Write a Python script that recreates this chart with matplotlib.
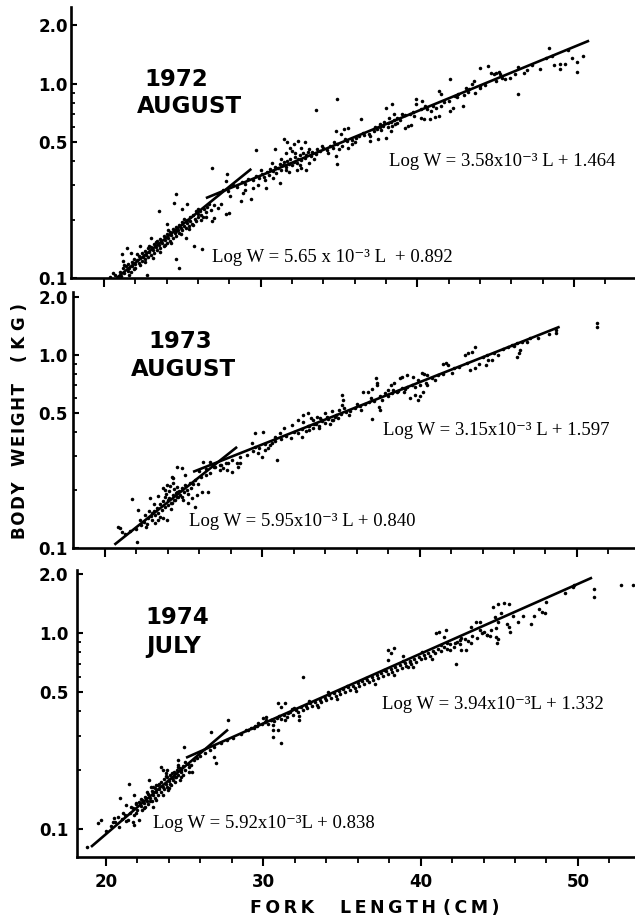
import matplotlib
matplotlib.use("Agg")
import matplotlib.pyplot as plt
from matplotlib.ticker import FixedLocator, FixedFormatter, NullFormatter

# ---------------- data (fork length cm, body weight kg) ----------------
years = ["1972", "1973", "1974"]
months = ["AUGUST", "AUGUST", "JULY"]

eq_lower = ["Log W = 5.65 x 10\u207b\u00b3 L  + 0.892",
            "Log W = 5.95x10\u207b\u00b3 L + 0.840",
            "Log W = 5.92x10\u207b\u00b3L + 0.838"]
eq_upper = ["Log W = 3.58x10\u207b\u00b3 L + 1.464",
            "Log W = 3.15x10\u207b\u00b3 L + 1.597",
            "Log W = 3.94x10\u207b\u00b3L + 1.332"]

# regression lines: (x0, x1), (y0, y1)
line_lower_x = [(20.8, 29.4), (20.6, 28.4), (19.05, 27.76)]
line_lower_y = [(0.100, 0.365), (0.104, 0.334), (0.0815, 0.323)]
line_upper_x = [(26.5, 50.96), (25.6, 48.9), (25.09, 50.9)]
line_upper_y = [(0.258, 1.67), (0.248, 1.40), (0.232, 1.92)]

pts_1972 = [
    (20.4,0.101),(20.7,0.104),(20.9,0.100),(21.0,0.108),(21.1,0.103),(21.2,0.112),(21.3,0.106),(21.4,0.115),
    (21.5,0.109),(21.5,0.118),(21.6,0.113),(21.7,0.107),(21.8,0.121),(21.8,0.115),(21.9,0.126),(22.0,0.118),
    (22.0,0.112),(22.1,0.124),(22.2,0.130),(22.2,0.119),(22.3,0.127),(22.4,0.122),(22.4,0.135),(22.5,0.129),
    (22.6,0.125),(22.6,0.138),(22.7,0.132),(22.8,0.128),(22.8,0.142),(22.9,0.136),(23.0,0.131),(23.0,0.145),
    (23.1,0.140),(23.2,0.134),(23.2,0.150),(23.3,0.144),(23.4,0.139),(23.4,0.155),(23.5,0.148),(23.6,0.143),
    (23.6,0.158),(23.7,0.152),(23.8,0.147),(23.8,0.164),(23.9,0.157),(24.0,0.151),(24.0,0.168),(24.1,0.161),
    (24.2,0.156),(24.2,0.173),(24.3,0.166),(24.4,0.160),(24.4,0.178),(24.5,0.171),(24.6,0.165),(24.6,0.183),
    (24.7,0.176),(24.8,0.170),(24.8,0.188),(24.9,0.181),(25.0,0.176),(25.0,0.194),(25.1,0.186),(25.2,0.180),
    (25.3,0.199),(25.3,0.191),(25.4,0.185),(25.5,0.205),(25.5,0.196),(25.6,0.190),(25.7,0.210),(25.8,0.201),
    (25.9,0.196),(26.0,0.214),(26.0,0.207),(26.1,0.221),(26.2,0.212),(26.3,0.205),(26.4,0.226),(26.5,0.218),
    (26.6,0.231),(26.8,0.224),(27.0,0.238),
    (20.6,0.106),(21.0,0.099),(21.3,0.117),(21.6,0.104),(21.9,0.111),(22.1,0.133),(22.3,0.116),(22.6,0.121),
    (22.9,0.147),(23.1,0.127),(23.3,0.153),(23.6,0.136),(23.9,0.148),(24.1,0.177),(24.3,0.152),(24.6,0.175),
    (24.9,0.169),(25.1,0.201),(25.4,0.178),(25.7,0.188),(25.9,0.222),(26.2,0.198),(26.5,0.205),(26.7,0.240),
    (25.2,0.160),(23.0,0.160),(22.3,0.146),(24.0,0.190),(21.2,0.122),(26.0,0.228),
    (21.46,0.143),(21.72,0.135),(21.14,0.133),(22.73,0.104),(24.58,0.125),(24.77,0.113),(25.72,0.146),
    (26.23,0.141),(23.50,0.221),(24.58,0.271),(24.45,0.244),(25.28,0.241),(24.96,0.227),(26.87,0.197),
    (27.0,0.204),(26.87,0.369),(27.82,0.344),(27.76,0.316),(28.71,0.249),(29.35,0.255),(28.07,0.265),
    (27.44,0.241),(27.95,0.216),(30.36,0.291),(31.25,0.309),(30.81,0.327),(29.73,0.457),(30.93,0.463),
    (27.3,0.229),(27.76,0.214),(29.0,0.285),(29.5,0.290),(29.8,0.300),(28.9,0.275),
    (27.3,0.272),(27.6,0.285),(27.9,0.281),(28.2,0.300),(28.5,0.295),(28.8,0.312),(29.0,0.305),(29.2,0.322),
    (29.5,0.318),(29.7,0.335),(29.9,0.328),(30.1,0.345),(30.2,0.330),(30.4,0.352),(30.5,0.340),(30.6,0.365),
    (30.8,0.355),(30.9,0.375),(31.0,0.348),(31.1,0.368),(31.2,0.385),(31.3,0.360),(31.4,0.380),(31.5,0.395),
    (31.6,0.372),(31.7,0.400),(31.8,0.385),(31.9,0.410),(32.0,0.380),(32.1,0.398),(32.2,0.420),(32.3,0.392),
    (32.4,0.410),(32.5,0.428),(32.6,0.405),(32.7,0.438),(32.8,0.415),(32.9,0.430),(33.0,0.448),(33.2,0.425),
    (33.3,0.445),(33.5,0.435),(33.6,0.460),(33.8,0.450),(34.0,0.470),(34.2,0.455),(34.4,0.478),(34.6,0.468),
    (34.9,0.490),(35.2,0.478),(35.5,0.505),(35.8,0.515),(36.1,0.525),(36.3,0.540),(36.6,0.545),(36.9,0.555),
    (37.2,0.570),(37.4,0.588),(37.6,0.598),(37.8,0.610),(38.1,0.628),(38.3,0.640),(38.5,0.655),(38.7,0.668),
    (38.9,0.650),(39.2,0.690),(39.5,0.700),(40.6,0.745),(41.0,0.770),(41.7,0.810),(42.5,0.860),(43.2,0.905),
    (44.3,0.990),(45.4,1.075),(46.2,1.125),(47.3,1.25),(48.6,1.40),(49.6,1.50),
    (30.0,0.36),(30.3,0.32),(30.7,0.39),(31.0,0.37),(31.3,0.41),(31.6,0.36),(32.2,0.44),(32.5,0.38),
    (33.1,0.46),(33.4,0.41),(33.9,0.48),(34.3,0.44),(34.7,0.50),(35.0,0.46),(35.4,0.52),(36.0,0.50),
    (36.5,0.56),(37.0,0.54),(37.3,0.60),(39.0,0.70),(39.7,0.72),(40.2,0.74),(41.5,0.77),(42.0,0.82),
    (43.0,0.88),(44.0,0.95),
    (31.5,0.52),(31.7,0.50),(31.9,0.47),(32.1,0.49),(32.4,0.51),(32.6,0.47),(32.8,0.50),(31.6,0.44),
    (32.0,0.45),(32.3,0.36),(31.8,0.35),(32.6,0.37),(32.9,0.36),(33.1,0.39),
    (37.9,0.64),(38.1,0.60),(38.2,0.67),(38.4,0.61),(38.5,0.70),(38.7,0.63),(37.7,0.58),(37.6,0.62),
    (33.54,0.735),(34.88,0.836),(36.4,0.661),(34.8,0.572),(35.3,0.585),(35.6,0.593),(35.1,0.553),(34.8,0.425),
    (34.9,0.387),(35.6,0.467),(35.8,0.49),(37.0,0.508),(37.5,0.52),(38.0,0.526),(38.3,0.572),(38.6,0.622),
    (38.0,0.75),(38.4,0.786),(39.2,0.593),(39.4,0.606),(39.6,0.614),(39.9,0.836),(40.3,0.817),(39.9,0.786),
    (40.5,0.77),(39.8,0.683),(40.2,0.668),(40.4,0.661),(40.8,0.661),(41.1,0.675),(41.4,0.683),(40.9,0.725),
    (41.2,0.75),(41.4,0.92),(41.5,0.89),(42.1,1.06),(42.1,0.725),(42.3,0.75),(42.4,0.87),(42.6,0.89),
    (42.9,0.77),(43.1,0.954),(43.3,0.94),(43.5,1.0),(43.6,1.03),(43.7,0.90),(44.0,0.98),(44.0,1.21),
    (44.5,1.24),(44.7,1.14),(45.0,1.14),(45.2,1.15),(45.3,1.13),(44.9,1.13),(45.0,1.03),(45.6,1.06),
    (45.9,1.075),(46.4,1.22),(46.8,1.14),(47.0,1.18),(46.4,0.89),(47.8,1.19),(48.2,1.36),(48.4,1.53),
    (48.7,1.25),(49.1,1.26),(49.1,1.19),(49.4,1.27),(49.9,1.36),(50.2,1.30),(50.2,1.15),(50.6,1.39),
]

pts_1973 = [
    (20.83,0.128),(21.3,0.118),(21.6,0.122),(22.0,0.125),(22.3,0.131),(22.5,0.137),(22.7,0.133),(22.9,0.146),
    (23.0,0.140),(23.1,0.155),(23.2,0.148),(23.3,0.162),(23.4,0.152),(23.5,0.170),(23.6,0.158),(23.7,0.176),
    (23.8,0.163),(23.9,0.190),(24.0,0.167),(24.1,0.182),(24.1,0.198),(24.2,0.172),(24.3,0.188),(24.4,0.178),
    (24.4,0.203),(24.5,0.192),(24.6,0.183),(24.7,0.198),(24.8,0.188),(24.9,0.205),(25.0,0.195),(25.1,0.212),
    (25.2,0.200),(25.4,0.218),(25.5,0.205),(25.7,0.224),(25.9,0.215),(26.1,0.232),(26.4,0.240),(26.7,0.245),
    (27.0,0.262),(27.4,0.268),(27.8,0.276),
    (22.2,0.140),(22.6,0.128),(23.2,0.135),(23.5,0.145),(23.8,0.200),(24.2,0.160),(24.6,0.195),(24.9,0.183),
    (25.3,0.190),(23.1,0.170),(23.4,0.185),(24.3,0.230),(25.6,0.215),(22.8,0.155),
    (20.95,0.127),(21.08,0.121),(22.03,0.107),(21.72,0.179),(22.1,0.157),(22.54,0.148),(22.73,0.143),
    (22.99,0.152),(22.86,0.181),(23.69,0.204),(23.94,0.212),(24.13,0.209),(24.32,0.217),(24.58,0.207),
    (23.8,0.184),(24.0,0.177),(24.26,0.171),(24.45,0.177),(24.64,0.184),(23.37,0.140),(23.69,0.143),
    (23.94,0.140),(24.58,0.263),(24.9,0.259),(24.26,0.233),(25.09,0.239),(24.96,0.177),(25.28,0.171),
    (25.53,0.181),(25.85,0.188),(25.72,0.163),(26.17,0.195),(26.55,0.195),(26.23,0.279),(26.68,0.279),
    (27.5,0.259),(27.76,0.253),(28.07,0.247),(28.39,0.276),(28.46,0.263),(27.3,0.253),(28.58,0.276),
    (29.35,0.35),(29.54,0.334),(29.73,0.31),(29.98,0.296),(30.17,0.322),(30.36,0.330),(30.62,0.35),
    (29.54,0.394),(30.04,0.398),(30.93,0.286),(30.8,0.376),(31.1,0.394),(31.4,0.419),(31.9,0.433),
    (32.3,0.46),(32.6,0.488),(32.9,0.50),(32.5,0.376),
    (26.0,0.252),(26.4,0.258),(26.9,0.262),(27.3,0.270),(27.7,0.276),(28.1,0.285),(28.6,0.295),(29.0,0.305),
    (29.4,0.318),(29.8,0.330),(30.2,0.345),(30.5,0.340),(30.8,0.360),(31.2,0.368),(31.5,0.380),(31.8,0.372),
    (32.0,0.400),(32.3,0.392),(32.5,0.415),(32.8,0.405),(33.0,0.428),(33.2,0.418),(33.4,0.440),(33.6,0.430),
    (33.8,0.455),(34.0,0.445),(34.2,0.468),(34.4,0.458),(34.6,0.480),(34.8,0.470),(35.0,0.495),(35.3,0.505),
    (35.6,0.515),(35.9,0.530),(36.2,0.545),(36.5,0.555),(36.8,0.568),(37.1,0.580),(38.0,0.615),(38.6,0.650),
    (39.1,0.668),(40.8,0.760),(41.2,0.785),(42.5,0.870),(43.0,0.905),(44.0,0.980),(44.7,1.02),(45.3,1.07),
    (46.0,1.11),(47.5,1.23),(48.2,1.29),
    (33.2,0.46),(33.7,0.47),(34.1,0.48),(34.5,0.46),(35.2,0.53),(35.5,0.49),(36.0,0.56),(36.3,0.52),
    (36.9,0.60),(38.3,0.66),(39.0,0.64),(40.0,0.70),(41.0,0.74),(41.5,0.80),(42.2,0.86),(44.3,1.0),(45.0,1.0),
    (32.6,0.45),(32.9,0.43),(33.1,0.47),(33.3,0.44),(33.5,0.48),(33.8,0.46),(34.0,0.50),(34.2,0.47),
    (34.4,0.51),(34.7,0.49),(34.9,0.52),(33.0,0.41),(33.6,0.42),(34.3,0.44),
    (35.07,0.62),(35.13,0.584),(35.07,0.55),(36.97,0.466),(36.4,0.64),(36.7,0.64),(37.0,0.67),(37.2,0.76),
    (37.3,0.72),(37.3,0.70),(37.5,0.61),(37.6,0.584),(37.4,0.535),(37.5,0.52),(37.8,0.635),(38.0,0.66),
    (38.2,0.70),(38.4,0.72),(38.75,0.76),(38.9,0.77),(38.25,0.635),(38.56,0.64),(38.88,0.674),(39.2,0.68),
    (39.5,0.70),(39.7,0.68),(39.2,0.79),(39.6,0.77),(39.9,0.74),(40.15,0.81),(40.3,0.80),(40.5,0.79),
    (39.4,0.60),(39.7,0.62),(40.0,0.61),(40.2,0.64),(39.9,0.584),(40.4,0.72),(40.5,0.70),(41.5,0.90),
    (41.7,0.91),(41.8,0.89),(42.06,0.81),(42.9,1.0),(43.1,1.02),(43.3,1.04),(43.5,1.10),(43.2,0.84),
    (43.5,0.86),(43.8,0.90),(44.2,0.89),(44.35,0.94),(44.6,0.94),(45.6,1.10),(45.9,1.12),(46.2,1.15),
    (46.5,1.17),(46.3,1.03),(46.2,0.98),(46.4,1.06),(46.8,1.17),(47.0,1.22),(48.7,1.34),(48.7,1.30),
    (51.3,1.46),(51.3,1.40),
]

pts_1974 = [
    (20.0,0.098),(20.3,0.104),(20.6,0.109),(20.8,0.103),(21.0,0.113),(21.2,0.118),(21.3,0.110),
    (21.5,0.122),(21.7,0.128),(21.8,0.118),(21.9,0.135),(22.0,0.126),(22.1,0.138),(22.2,0.131),(22.3,0.142),
    (22.3,0.125),(22.4,0.136),(22.5,0.147),(22.5,0.130),(22.6,0.140),(22.7,0.152),(22.7,0.135),(22.8,0.145),
    (22.9,0.157),(22.9,0.140),(23.0,0.150),(23.1,0.162),(23.1,0.145),(23.2,0.155),(23.3,0.168),(23.3,0.150),
    (23.4,0.160),(23.5,0.174),(23.5,0.155),(23.6,0.165),(23.7,0.180),(23.7,0.160),(23.8,0.170),(23.9,0.185),
    (23.9,0.165),(24.0,0.176),(24.1,0.190),(24.1,0.170),(24.2,0.182),(24.3,0.196),(24.4,0.186),(24.5,0.200),
    (24.6,0.190),(24.7,0.205),(24.8,0.196),(24.9,0.210),(25.0,0.200),(25.2,0.215),(25.4,0.212),(25.6,0.225),
    (25.8,0.230),(26.0,0.238),(26.3,0.245),(26.6,0.255),(26.9,0.262),(27.3,0.275),(27.7,0.285),(28.1,0.292),
    (28.6,0.305),(29.0,0.320),(29.4,0.330),
    (21.9,0.122),(22.2,0.143),(22.4,0.128),(22.6,0.155),(22.8,0.139),(23.0,0.165),(23.2,0.141),(23.4,0.171),
    (23.6,0.150),(23.8,0.188),(24.0,0.162),(24.2,0.195),(24.4,0.175),(24.6,0.213),(24.8,0.185),(25.0,0.222),
    (25.3,0.196),(23.0,0.130),(23.9,0.200),(24.7,0.178),
    (18.8,0.0815),(19.5,0.108),(19.7,0.112),(20.45,0.109),(20.5,0.115),(20.76,0.116),(20.9,0.145),
    (21.1,0.121),(21.4,0.112),(21.7,0.109),(21.8,0.105),(22.1,0.112),(21.46,0.171),(21.8,0.150),(21.9,0.137),
    (21.3,0.133),(21.6,0.130),(22.73,0.179),(22.86,0.165),(23.18,0.169),(23.5,0.208),(23.6,0.202),(23.8,0.194),
    (24.6,0.226),(24.6,0.208),(24.8,0.200),(24.9,0.190),(25.3,0.208),(25.5,0.197),(24.26,0.179),(24.45,0.185),
    (24.13,0.169),(23.94,0.159),(24.96,0.263),(26.87,0.235),(27.0,0.219),(26.7,0.315),(27.76,0.362),
    (29.66,0.349),(29.98,0.370),(30.17,0.375),(30.49,0.362),(30.6,0.323),(30.6,0.297),(30.93,0.323),
    (31.1,0.276),(30.93,0.442),(31.1,0.422),(31.4,0.442),(31.6,0.393),(31.95,0.416),(32.3,0.362),(32.5,0.598),
    (28.9,0.323),(29.2,0.329),(29.5,0.337),
    (29.6,0.335),(29.9,0.345),(30.1,0.352),(30.3,0.345),(30.5,0.362),(30.7,0.355),(30.9,0.372),(31.1,0.365),
    (31.3,0.385),(31.5,0.375),(31.7,0.395),(31.9,0.385),(32.1,0.405),(32.2,0.395),(32.4,0.420),(32.5,0.405),
    (32.7,0.428),(32.8,0.415),(33.0,0.440),(33.1,0.425),(33.3,0.448),(33.4,0.432),(33.6,0.458),(33.7,0.445),
    (33.9,0.470),(34.0,0.455),(34.2,0.482),(34.3,0.468),(34.5,0.495),(34.6,0.478),(34.8,0.505),(34.9,0.490),
    (35.1,0.518),(35.2,0.500),(35.4,0.530),(35.5,0.512),(35.7,0.540),(35.8,0.525),(36.0,0.555),(36.1,0.538),
    (36.3,0.568),(36.4,0.550),(36.6,0.580),(36.7,0.565),(36.9,0.595),(37.0,0.578),(37.2,0.610),(37.3,0.590),
    (37.5,0.625),(37.6,0.605),(37.8,0.640),(37.9,0.620),(38.1,0.655),(38.2,0.635),(38.4,0.670),(38.5,0.650),
    (38.7,0.688),(38.8,0.665),(39.0,0.705),(39.1,0.680),(39.3,0.722),(39.4,0.698),(39.6,0.740),(39.7,0.715),
    (39.9,0.760),(40.0,0.735),(40.2,0.778),(40.3,0.752),(40.5,0.795),(40.6,0.770),(40.8,0.815),(40.9,0.790),
    (41.1,0.835),(41.3,0.810),(41.5,0.855),(41.7,0.830),(41.9,0.880),(42.1,0.855),(42.3,0.905),(42.5,0.880),
    (42.8,0.935),(43.0,0.910),(43.3,0.965),(43.6,0.945),(43.9,1.00),(44.2,0.985),(44.5,1.04),(44.8,1.06),
    (45.5,1.12),(46.5,1.22),(48.0,1.45),(49.2,1.60),
    (30.2,0.36),(30.6,0.34),(31.0,0.38),(31.4,0.36),(31.8,0.41),(32.3,0.38),(32.9,0.45),(33.5,0.42),
    (34.1,0.50),(34.7,0.46),(35.3,0.54),(35.9,0.51),(36.5,0.59),(37.1,0.55),(37.7,0.65),(38.3,0.61),
    (38.9,0.72),(39.5,0.67),(40.1,0.80),(40.7,0.74),(41.3,0.87),(41.9,0.82),(42.6,0.95),(43.2,0.89),
    (43.8,1.04),(44.4,0.97),
    (37.9,0.824),(38.1,0.794),(38.3,0.845),(37.96,0.73),(38.9,0.77),(39.2,0.67),(39.3,0.71),(41.0,1.0),
    (41.2,1.01),(41.6,1.04),(41.5,0.96),(41.7,0.89),(42.25,0.70),(42.6,0.824),(42.9,0.824),(42.2,0.89),
    (42.5,0.92),(43.2,1.07),(43.5,1.14),(43.8,1.14),(44.0,1.01),(44.2,0.98),(44.7,1.21),(44.9,1.14),
    (44.8,0.96),(44.9,0.93),(44.85,0.89),(44.6,1.36),(44.9,1.41),(45.1,1.27),(45.3,1.43),(45.6,1.41),
    (45.9,1.22),(45.6,1.07),(45.7,1.01),(46.2,1.14),(47.0,1.11),(47.2,1.22),(47.5,1.33),(47.7,1.29),
    (47.9,1.27),(49.7,1.73),(49.75,1.76),(51.0,1.68),(51.0,1.53),(52.74,1.76),(53.5,1.76),
]

all_points = [pts_1972, pts_1973, pts_1974]

ytick_vals = [0.1, 0.5, 1.0, 2.0]
ytick_text = ["0.1", "0.5", "1.0", "2.0"]
yminor_vals = [0.2, 0.3, 0.4, 0.6, 0.7, 0.8, 0.9]
xtick_vals = [20, 30, 40, 50]
xminor_vals = [22, 24, 26, 28, 32, 34, 36, 38, 42, 44, 46, 48, 52]

# ---------------- layout (pixels) ----------------
W, H = 635, 921
plt.rcParams["font.family"] = ["DejaVu Sans"]
plt.rcParams["font.weight"] = "bold"
fig = plt.figure(figsize=(W / 100, H / 100), dpi=100)

# left, top, bottom (px), xlim, ylim, ylabel pad (pt)
layout = [
    (71, 7, 278, (17.89, 53.89), (0.1, 2.49), 2.2),
    (73, 292, 548, (17.97, 53.69), (0.1, 2.12), 3.6),
    (77, 570, 857, (18.16, 53.63), (0.0724, 2.10), 6.3),
]
title_pos = [((176, 80), (189, 106)), ((180, 341), (183, 369)), ((177, 618), (174, 647))]
eq_low_pos = [(212, 257), (189, 521), (153, 823)]
eq_up_pos = [(389, 161), (383, 430), (382, 704)]

def fx(px):
    return px / W

def fy(py):
    return 1 - py / H

serif = ["Liberation Serif", "DejaVu Serif"]

for i in range(3):
    left, top, bot, xl, yl, pad = layout[i]
    ax = fig.add_axes([fx(left), fy(bot), (W - left) / W, (bot - top) / H])
    ax.set_yscale("log")
    ax.set_xlim(*xl)
    ax.set_ylim(*yl)
    for s in ("top", "right"):
        ax.spines[s].set_visible(False)
    for s in ("left", "bottom"):
        ax.spines[s].set_linewidth(1.9)
    ax.yaxis.set_major_locator(FixedLocator(ytick_vals))
    ax.yaxis.set_major_formatter(FixedFormatter(ytick_text))
    ax.yaxis.set_minor_locator(FixedLocator(yminor_vals))
    ax.yaxis.set_minor_formatter(NullFormatter())
    ax.xaxis.set_major_locator(FixedLocator(xtick_vals))
    ax.xaxis.set_minor_locator(FixedLocator(xminor_vals))
    ax.tick_params(axis="y", which="major", direction="in", length=4, width=1.5,
                   pad=pad, labelsize=12)
    ax.tick_params(axis="y", which="minor", direction="in", length=2.6, width=1.3)
    ax.tick_params(axis="x", which="major", direction="out", length=6.5, width=1.5,
                   pad=5, labelsize=12, labelbottom=(i == 2))
    ax.tick_params(axis="x", which="minor", direction="out", length=4.2, width=1.3)
    for lab in ax.get_xticklabels() + ax.get_yticklabels():
        lab.set_fontweight("bold")

    xs = [p[0] for p in all_points[i]]
    ys = [p[1] for p in all_points[i]]
    ax.scatter(xs, ys, s=6.5, c="black", linewidths=0, zorder=3, clip_on=True)
    ax.plot(line_lower_x[i], line_lower_y[i], color="black", lw=1.9, solid_capstyle="butt", zorder=4)
    ax.plot(line_upper_x[i], line_upper_y[i], color="black", lw=1.9, solid_capstyle="butt", zorder=4)

    (yx, yy), (mx, my) = title_pos[i]
    fig.text(fx(yx), fy(yy), years[i], ha="center", va="center", fontsize=16.5, fontweight="bold")
    fig.text(fx(mx), fy(my), months[i], ha="center", va="center", fontsize=16.5, fontweight="bold")
    fig.text(fx(eq_low_pos[i][0]), fy(eq_low_pos[i][1]), eq_lower[i], ha="left", va="center",
             fontsize=13.5, fontweight="normal", family=serif)
    fig.text(fx(eq_up_pos[i][0]), fy(eq_up_pos[i][1]), eq_upper[i], ha="left", va="center",
             fontsize=13.5, fontweight="normal", family=serif)

hair = "\u200a"
thin = "\u2009"
# y-axis label, word by word
for word, cy, sep in (("BODY", 510, hair), ("WEIGHT", 424, hair), ("( K G )", 333, "")):
    fig.text(fx(20), fy(cy), sep.join(word) if sep else word, rotation=90, ha="center",
             va="center", fontsize=12, fontweight="bold")
# x-axis label, word by word
for word, cx in (("FORK", 282), ("LENGTH", 388), ("(CM)", 471)):
    fig.text(fx(cx), fy(908), thin.join(word), ha="center", va="center",
             fontsize=12.5, fontweight="bold")

fig.savefig("out.png", dpi=100)
